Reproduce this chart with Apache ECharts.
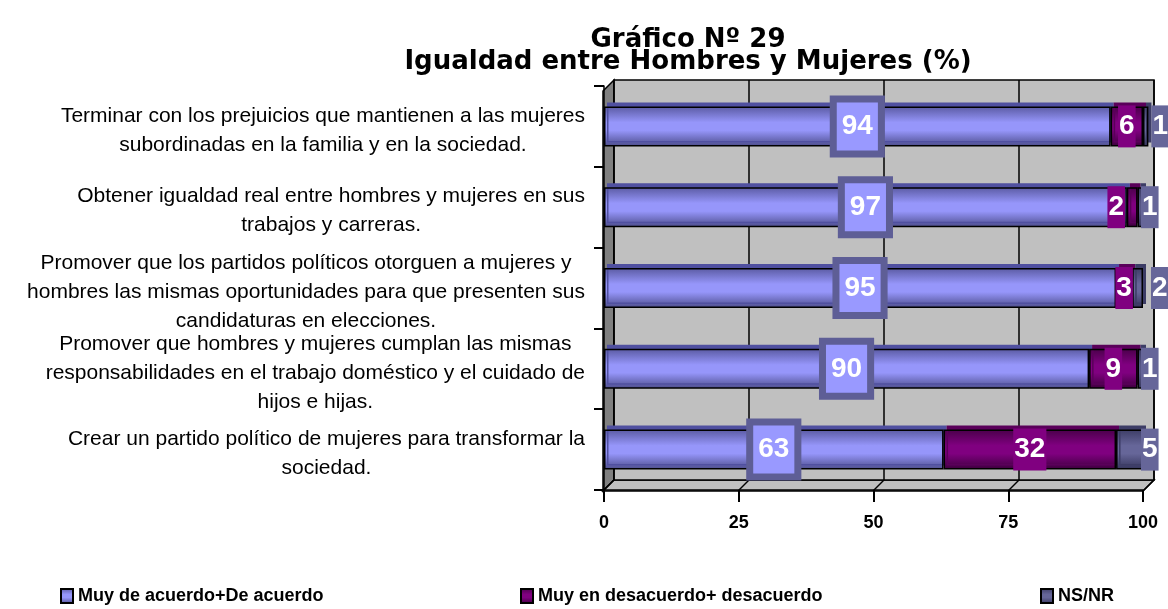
<!DOCTYPE html>
<html>
<head>
<meta charset="utf-8">
<script src="https://cdn.jsdelivr.net/npm/echarts@6/dist/echarts.min.js"></script>
<style>
  html, body { margin: 0; padding: 0; background: #fff; }
  #chart { width: 1168px; height: 609px; }
</style>
</head>
<body>
<div id="chart"></div>
<script>
const categories = [
  "Terminar con los prejuicios que mantienen a las mujeres\nsubordinadas en la familia y en la sociedad.",
  "Obtener igualdad real entre hombres y mujeres en sus\ntrabajos y carreras.",
  "Promover que los partidos políticos otorguen a mujeres y\nhombres las mismas oportunidades para que presenten sus\ncandidaturas en elecciones.",
  "Promover que hombres y mujeres cumplan las mismas\nresponsabilidades en el trabajo doméstico y el cuidado de\nhijos e hijas.",
  "Crear un partido político de mujeres para transformar la\nsociedad."
];
const seriesNames = ["Muy de acuerdo+De acuerdo", "Muy en desacuerdo+ desacuerdo", "NS/NR"];
const acuerdo = [94, 97, 95, 90, 63];
const desacuerdo = [6, 2, 3, 9, 32];
const nsnr = [1, 1, 2, 1, 5];
const xTicks = [0, 25, 50, 75, 100];

const FONT = 'Arial, "Liberation Sans", sans-serif';
// front plane and back wall of the fake 3D box
const G = { left: 604, top: 86, width: 539, height: 404 };
const W = { left: 614, top: 80, width: 540, height: 400 };

const chart = echarts.init(document.getElementById("chart"));

function grad(c0, c1, c2) {
  return new echarts.graphic.LinearGradient(0, 0, 0, 1, [
    { offset: 0, color: c0 },
    { offset: 0.4, color: c1 },
    { offset: 0.6, color: c1 },
    { offset: 1, color: c2 }
  ]);
}

const valueLabel = {
  show: true,
  color: "#fff",
  fontFamily: FONT,
  fontWeight: "bold",
  fontSize: 28,
  lineHeight: 42
};

// floor + left side wall + floor tick diagonals
const deco = [
  {
    type: "polygon", z: -1, silent: true,
    shape: { points: [[W.left, W.top], [G.left - 1, G.top + 5], [G.left - 1, G.top + G.height + 1], [W.left, W.top + W.height]] },
    style: { fill: "#808080", stroke: "#000", lineWidth: 1.5 }
  },
  {
    type: "polygon", z: -1, silent: true,
    shape: { points: [[W.left, W.top + W.height], [W.left + W.width, W.top + W.height], [G.left + G.width, G.top + G.height + 1], [G.left - 1, G.top + G.height + 1]] },
    style: { fill: "#c0c0c0", stroke: "#000", lineWidth: 1.5 }
  }
];
xTicks.forEach(t => {
  deco.push({
    type: "line", z: -1, silent: true,
    shape: {
      x1: G.left - 1 + t / 100 * (G.width + 1), y1: G.top + G.height + 1,
      x2: W.left + t / 100 * W.width, y2: W.top + W.height
    },
    style: { stroke: "#000", lineWidth: 1.5 }
  });
});

const legendText = { fontFamily: FONT, fontWeight: "bold", fontSize: 18, color: "#000" };
function legendAt(left, name) {
  return {
    left: left, top: 582, itemWidth: 12, itemHeight: 14, itemGap: 4,
    icon: "rect", textStyle: legendText, data: [name]
  };
}

const option = {
  backgroundColor: "#fff",
  animation: false,
  textStyle: { fontFamily: FONT },
  title: {
    text: "Gráfico Nº 29\nIgualdad entre Hombres y Mujeres (%)",
    left: 683, top: 24, textAlign: "center",
    textStyle: { fontFamily: '"DejaVu Sans", Verdana, sans-serif', fontWeight: "bold", fontSize: 26, lineHeight: 22, color: "#000" }
  },
  legend: [
    legendAt(55, seriesNames[0]),
    legendAt(515, seriesNames[1]),
    legendAt(1035, seriesNames[2])
  ],
  graphic: deco,
  grid: [
    { left: G.left, top: G.top, width: G.width, height: G.height, show: false },
    { left: W.left, top: W.top, width: W.width, height: W.height, show: true, z: 0,
      backgroundColor: "#c0c0c0", borderColor: "#000", borderWidth: 1.5 }
  ],
  xAxis: [
    {
      type: "value", gridIndex: 0, min: 0, max: 100, interval: 25,
      axisLine: { show: true, lineStyle: { color: "#000", width: 1.5 } },
      axisTick: { show: true, length: 12, lineStyle: { color: "#000", width: 2 } },
      axisLabel: { color: "#000", fontWeight: "bold", fontSize: 18, margin: 24 },
      splitLine: { show: false }
    },
    {
      type: "value", gridIndex: 1, min: 0, max: 100, interval: 25,
      axisLine: { show: false }, axisTick: { show: false }, axisLabel: { show: false },
      splitLine: { show: true, lineStyle: { color: "#000", width: 1.5 } }
    }
  ],
  yAxis: [
    {
      type: "category", gridIndex: 0, inverse: true, data: categories,
      axisLine: { show: true, lineStyle: { color: "#000", width: 1.5 } },
      axisTick: { show: true, length: 10, lineStyle: { color: "#000", width: 2 } },
      axisLabel: {
        margin: 19, color: "#000", padding: [8, 0, 0, 0],
        formatter: v => v.split("\n").map(l => "{c|" + l + "}").join("\n"),
        rich: { c: { align: "center", fontFamily: FONT, fontSize: 21, lineHeight: 29, color: "#000" } }
      }
    },
    { type: "category", gridIndex: 1, data: categories, show: false }
  ],
  series: [
    {
      name: seriesNames[0], type: "bar", stack: "t", barWidth: 40, clip: false,
      data: acuerdo,
      itemStyle: {
        color: grad("#5a5aa2", "#9696fa", "#4c4c8a"),
        borderColor: "#000", borderWidth: 1.5,
        shadowColor: "#5050a0", shadowOffsetX: 3, shadowOffsetY: -4, shadowBlur: 0
      },
      label: Object.assign({}, valueLabel, {
        position: "inside",
        backgroundColor: "#9999ff", borderColor: "#5e5e96", borderWidth: 7,
        padding: [3, 5], lineHeight: 42
      })
    },
    {
      name: seriesNames[1], type: "bar", stack: "t", barWidth: 40, clip: false,
      data: desacuerdo.map((v, i) => i === 1 ? { value: v, label: { offset: [-16, 0] } } : v),
      itemStyle: {
        color: grad("#4a004a", "#800080", "#3c003c"),
        borderColor: "#000", borderWidth: 1.5,
        shadowColor: "#5a005a", shadowOffsetX: 3, shadowOffsetY: -4, shadowBlur: 0
      },
      label: Object.assign({}, valueLabel, {
        position: "inside", backgroundColor: "#800080", padding: [0, 1]
      })
    },
    {
      name: seriesNames[2], type: "bar", stack: "t", barWidth: 40, clip: false,
      data: nsnr.map((v, i) => i === 0 ? { value: v, label: { offset: [5, 0] } }
        : i === 2 ? { value: v, label: { offset: [10, 0] } } : v),
      itemStyle: {
        color: grad("#3d3d66", "#666699", "#34345a"),
        borderColor: "#000", borderWidth: 1.5,
        shadowColor: "#3d3d66", shadowOffsetX: 3, shadowOffsetY: -4, shadowBlur: 0
      },
      label: Object.assign({}, valueLabel, {
        position: "right", distance: -2, backgroundColor: "#666699", padding: [0, 1]
      })
    }
  ]
};

chart.setOption(option);
</script>
</body>
</html>
